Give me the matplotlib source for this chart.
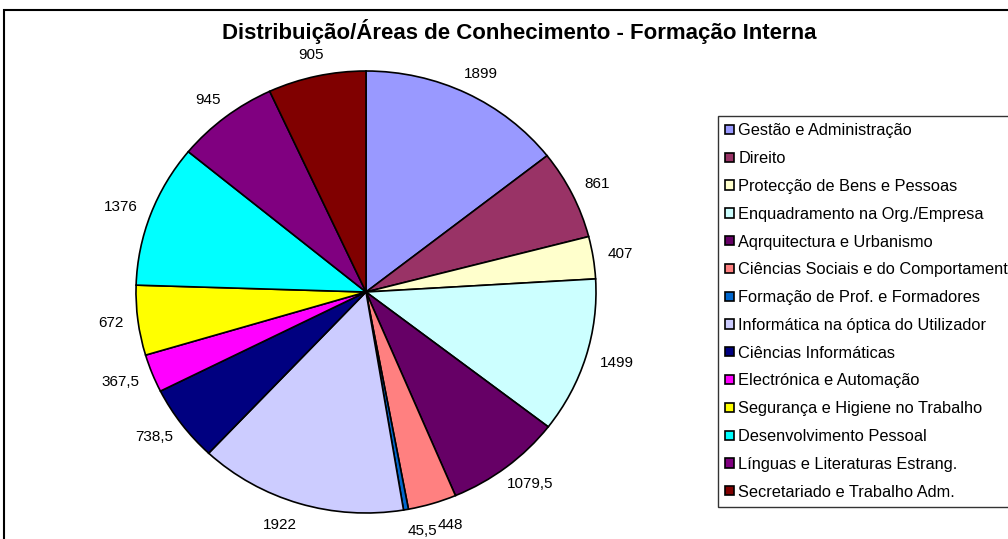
import numpy as np
import matplotlib
matplotlib.use("Agg")
import matplotlib.pyplot as plt
from matplotlib.patches import Rectangle

plt.rcParams['font.family'] = ['Liberation Sans', 'DejaVu Sans']

categories = ["Gestão e Administração", "Direito", "Protecção de Bens e Pessoas",
              "Enquadramento na Org./Empresa", "Aqrquitectura e Urbanismo",
              "Ciências Sociais e do Comportamento", "Formação de Prof. e Formadores",
              "Informática na óptica do Utilizador", "Ciências Informáticas",
              "Electrónica e Automação", "Segurança e Higiene no Trabalho",
              "Desenvolvimento Pessoal", "Línguas e Literaturas Estrang.",
              "Secretariado e Trabalho Adm."]
hours = [1899, 861, 407, 1499, 1079.5, 448, 45.5, 1922, 738.5, 367.5, 672, 1376, 945, 905]
value_labels = ["1899", "861", "407", "1499", "1079,5", "448", "45,5", "1922",
                "738,5", "367,5", "672", "1376", "945", "905"]
colors = ["#9999FF", "#993366", "#FFFFCC", "#CCFFFF", "#660066", "#FF8080", "#0066CC",
          "#CCCCFF", "#000080", "#FF00FF", "#FFFF00", "#00FFFF", "#800080", "#800000"]

# sideways shift (px) Excel gave the crowded labels at the bottom
label_shift = [0, 0, 0, 0, 0, 10, 11, -10, 0, 0, 0, 0, 0, 0]

W, H = 1008, 539
fig = plt.figure(figsize=(W / 100, H / 100), dpi=100)

# outer chart border (runs off the right and bottom edges)
fig.patches.append(Rectangle((4 / W, -0.05), 1.1, 1 - 10 / H + 0.05, transform=fig.transFigure,
                             fill=False, edgecolor="black", linewidth=1.5))

fig.text(519 / W, 1 - 32 / H, "Distribuição/Áreas de Conhecimento - Formação Interna",
         ha="center", va="center", fontsize=16, fontweight="bold")

# pie is slightly squashed vertically in the original (rx 230 px, ry 221 px)
cx, cy, rx, ry = 366, 292, 230, 221
lim = 1.2
aw = 2 * lim * rx
ah = 2 * lim * ry
ax = fig.add_axes([(cx - aw / 2) / W, (H - cy - ah / 2) / H, aw / W, ah / H])

wedges, _ = ax.pie(hours, colors=colors, startangle=90, counterclock=False,
                   wedgeprops=dict(edgecolor="black", linewidth=1.2))
ax.set_aspect("auto")
ax.set_xlim(-lim, lim)
ax.set_ylim(-lim, lim)

# labels sit just outside the rim, the box pushed out by half its size
gap = 15
texts = []
for w, lab in zip(wedges, value_labels):
    texts.append(ax.text(0, 0, lab, ha="center", va="center", fontsize=11))
fig.canvas.draw()
rend = fig.canvas.get_renderer()
for w, t, sh in zip(wedges, texts, label_shift):
    ang = np.deg2rad((w.theta1 + w.theta2) / 2)
    bb = t.get_window_extent(rend)
    c, s = np.cos(ang), np.sin(ang)
    px = (rx + gap) * c + bb.width / 2 * c + sh
    py = (ry + gap) * s + bb.height / 2 * s
    t.set_position((px / rx, py / ry))

leg = ax.legend(wedges, categories, loc="upper left", bbox_to_anchor=(718 / W, 1 - 116 / H),
                bbox_transform=fig.transFigure, frameon=True, fancybox=False, fontsize=11.8,
                handlelength=0.5, handleheight=0.5, handletextpad=0.28, labelspacing=0.78,
                borderaxespad=0, borderpad=0.45)
leg.get_frame().set_edgecolor("black")
leg.get_frame().set_linewidth(1.0)

fig.savefig("out.png", dpi=100)
